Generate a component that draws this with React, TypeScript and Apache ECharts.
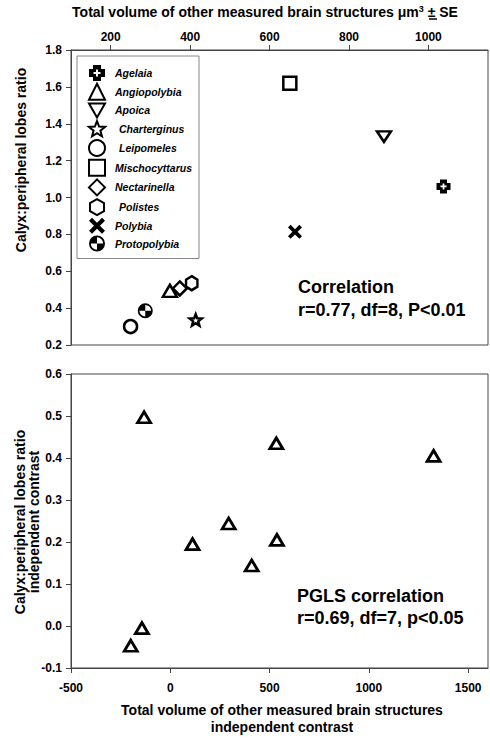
import React, { useEffect, useRef } from 'react';
import * as echarts from 'echarts';

const genera = ['Agelaia', 'Angiopolybia', 'Apoica', 'Charterginus', 'Leipomeles', 'Mischocyttarus', 'Nectarinella', 'Polistes', 'Polybia', 'Protopolybia'];
const brainVolume = [1038, 349, 888, 414, 250, 651, 374, 404, 664, 287];
const calyxRatio = [1.06, 0.494, 1.33, 0.336, 0.30, 1.62, 0.507, 0.535, 0.814, 0.386];

const contrastVolume = [-132, 534, 1326, 294, 112, 537, 410, -143, -199];
const contrastRatio = [0.497, 0.435, 0.405, 0.244, 0.195, 0.205, 0.144, -0.005, -0.047];

const topTicks = [200, 400, 600, 800, 1000];
const bottomTicks = [-500, 0, 500, 1000, 1500];
const indentedLegend = ['Charterginus', 'Leipomeles', 'Polistes'];

const FONT = '"Liberation Sans", Arial, Helvetica, sans-serif';
const AXIS_COLOR = '#444';

const PLUS = 'path://M4,0 H12 V4 H16 V12 H12 V16 H4 V12 H0 V4 H4 Z M7,4.5 V7 H4.5 V9 H7 V11.5 H9 V9 H11.5 V7 H9 V4.5 Z';
const INV_TRI = 'path://M0,0 L16,0 L8,14 Z';
const STAR = 'path://M8,0 L10,5.25 L15.61,5.53 L11.23,9.05 L12.7,14.47 L8,11.4 L3.3,14.47 L4.77,9.05 L0.39,5.53 L6,5.25 Z';
const HEX = 'path://M8,0 L15,4 L15,12 L8,16 L1,12 L1,4 Z';
const XMARK = 'path://M0,3 L3,0 L8,5 L13,0 L16,3 L11,8 L16,13 L13,16 L8,11 L3,16 L0,13 L5,8 Z';
const HALF = 'path://M0,8 A8,8 0 1 1 16,8 A8,8 0 1 1 0,8 Z M1.8,8 A6.2,6.2 0 1 0 14.2,8 A6.2,6.2 0 1 0 1.8,8 Z M8,8 L1.8,8 A6.2,6.2 0 0 1 8,1.8 Z M8,8 L14.2,8 A6.2,6.2 0 0 1 8,14.2 Z';

const symbolFor: Record<string, { symbol: string; size: number | number[]; filled: boolean }> = {
  Agelaia: { symbol: PLUS, size: 14, filled: true },
  Angiopolybia: { symbol: 'triangle', size: [14, 12], filled: false },
  Apoica: { symbol: INV_TRI, size: [14, 12], filled: false },
  Charterginus: { symbol: STAR, size: 12, filled: false },
  Leipomeles: { symbol: 'circle', size: 13, filled: false },
  Mischocyttarus: { symbol: 'rect', size: 13, filled: false },
  Nectarinella: { symbol: 'diamond', size: [14, 14], filled: false },
  Polistes: { symbol: HEX, size: [13, 14], filled: false },
  Polybia: { symbol: XMARK, size: 14, filled: true },
  Protopolybia: { symbol: HALF, size: 15, filled: true },
};

export default function App() {
  const ref = useRef<HTMLDivElement>(null);

  useEffect(() => {
    document.body.style.margin = '0';
    const chart = echarts.init(ref.current as HTMLDivElement, null, { renderer: 'svg' });

    const topSeries = genera.map((g, i) => {
      const s = symbolFor[g];
      return {
        type: 'scatter',
        name: g,
        xAxisIndex: 0,
        yAxisIndex: 0,
        data: [[brainVolume[i], calyxRatio[i]]],
        symbol: s.symbol,
        symbolSize: s.size,
        symbolKeepAspect: true,
        itemStyle: s.filled
          ? { color: '#000', borderWidth: 0, opacity: 1 }
          : { color: '#fff', borderColor: '#000', borderWidth: 2.5, opacity: 1 },
        emphasis: { disabled: true },
        z: 3,
      };
    });

    const bottomSeries = {
      type: 'scatter',
      name: 'contrasts',
      xAxisIndex: 1,
      yAxisIndex: 1,
      data: contrastVolume.map((v, i) => [v, contrastRatio[i]]),
      symbol: 'triangle',
      symbolSize: [13, 11],
      itemStyle: { color: '#fff', borderColor: '#000', borderWidth: 2.8, opacity: 1 },
      emphasis: { disabled: true },
      z: 3,
    };

    const tickLabel = { color: '#000', fontFamily: FONT, fontWeight: 'bold', fontSize: 12 };
    const plain = (v: number) => String(Math.round(v));
    const legendText = { color: '#000', fontFamily: FONT, fontWeight: 'bold', fontStyle: 'italic', fontSize: 10.5 };

    const option: any = {
      animation: false,
      backgroundColor: '#fff',
      grid: [
        { left: 71, top: 50, width: 417, height: 295, show: true, borderColor: AXIS_COLOR, borderWidth: 1, backgroundColor: 'transparent' },
        { left: 71, top: 374, width: 417, height: 294, show: true, borderColor: AXIS_COLOR, borderWidth: 1, backgroundColor: 'transparent' },
      ],
      xAxis: [
        {
          type: 'value', gridIndex: 0, position: 'top', min: 100, max: 1150,
          axisLine: { show: true, onZero: false, lineStyle: { color: AXIS_COLOR } },
          axisTick: { show: true, length: 5, customValues: topTicks, lineStyle: { color: AXIS_COLOR } },
          axisLabel: { ...tickLabel, margin: 7, customValues: topTicks, formatter: plain },
          splitLine: { show: false },
        },
        {
          type: 'value', gridIndex: 1, position: 'bottom', min: -500, max: 1600,
          axisLine: { show: true, onZero: false, lineStyle: { color: AXIS_COLOR } },
          axisTick: { show: true, length: 5, customValues: bottomTicks, lineStyle: { color: AXIS_COLOR } },
          axisLabel: { ...tickLabel, margin: 14, customValues: bottomTicks, formatter: plain },
          splitLine: { show: false },
        },
      ],
      yAxis: [
        {
          type: 'value', gridIndex: 0, min: 0.2, max: 1.8, interval: 0.2,
          axisLine: { show: true, onZero: false, lineStyle: { color: AXIS_COLOR } },
          axisTick: { show: true, length: 5, lineStyle: { color: AXIS_COLOR } },
          axisLabel: { ...tickLabel, margin: 9, formatter: (v: number) => v.toFixed(1) },
          splitLine: { show: false },
        },
        {
          type: 'value', gridIndex: 1, min: -0.1, max: 0.6, interval: 0.1,
          axisLine: { show: true, onZero: false, lineStyle: { color: AXIS_COLOR } },
          axisTick: { show: true, length: 5, lineStyle: { color: AXIS_COLOR } },
          axisLabel: { ...tickLabel, margin: 9, formatter: (v: number) => (Math.abs(v) < 1e-9 ? 0 : v).toFixed(1) },
          splitLine: { show: false },
        },
      ],
      legend: {
        orient: 'vertical',
        left: 77,
        top: 56,
        padding: [9, 7, 7, 11],
        itemWidth: 16,
        itemHeight: 16,
        itemGap: 1.7,
        borderColor: '#888',
        borderWidth: 1,
        backgroundColor: '#fff',
        selectedMode: false,
        textStyle: { ...legendText, padding: [0, 0, 0, 5] },
        data: genera.map((g) => ({
          name: g,
          textStyle: { ...legendText, padding: [0, 0, 0, indentedLegend.includes(g) ? 9 : 5] },
        })),
      },
      graphic: [
        {
          type: 'text', x: 265, y: 12,
          style: {
            text: 'Total volume of other measured brain structures μm{sup|3} ± SE',
            fontFamily: FONT, fontWeight: 'bold', fontSize: 14, fill: '#000',
            align: 'center', verticalAlign: 'middle',
            rich: { sup: { fontFamily: FONT, fontWeight: 'bold', fontSize: 9, fill: '#000', verticalAlign: 'top', padding: [0, 0, 6, 0] } },
          },
        },
        { type: 'line', shape: { x1: 429, y1: 19, x2: 437, y2: 19 }, style: { stroke: '#000', lineWidth: 1.5 } },
        {
          type: 'text', x: 21, y: 160, rotation: Math.PI / 2,
          style: { text: 'Calyx:peripheral lobes ratio', fontFamily: FONT, fontWeight: 'bold', fontSize: 14, fill: '#000', align: 'center', verticalAlign: 'middle' },
        },
        {
          type: 'text', x: 27, y: 522, rotation: Math.PI / 2,
          style: { text: 'Calyx:peripheral lobes ratio\nindependent contrast', fontFamily: FONT, fontWeight: 'bold', fontSize: 14, lineHeight: 14, fill: '#000', align: 'center', verticalAlign: 'middle' },
        },
        {
          type: 'text', x: 282, y: 718.5,
          style: { text: 'Total volume of other measured brain structures\nindependent contrast', fontFamily: FONT, fontWeight: 'bold', fontSize: 14, lineHeight: 17, fill: '#000', align: 'center', verticalAlign: 'middle' },
        },
        {
          type: 'text', x: 298, y: 298.5,
          style: { text: 'Correlation\nr=0.77, df=8, P<0.01', fontFamily: FONT, fontWeight: 'bold', fontSize: 18, lineHeight: 23, fill: '#000', align: 'left', verticalAlign: 'middle' },
        },
        {
          type: 'text', x: 297, y: 607,
          style: { text: 'PGLS correlation\nr=0.69, df=7, p<0.05', fontFamily: FONT, fontWeight: 'bold', fontSize: 18, lineHeight: 22, fill: '#000', align: 'left', verticalAlign: 'middle' },
        },
      ],
      series: [...topSeries, bottomSeries],
    };

    chart.setOption(option);
    return () => chart.dispose();
  }, []);

  return <div ref={ref} style={{ width: 490, height: 738 }} />;
}
